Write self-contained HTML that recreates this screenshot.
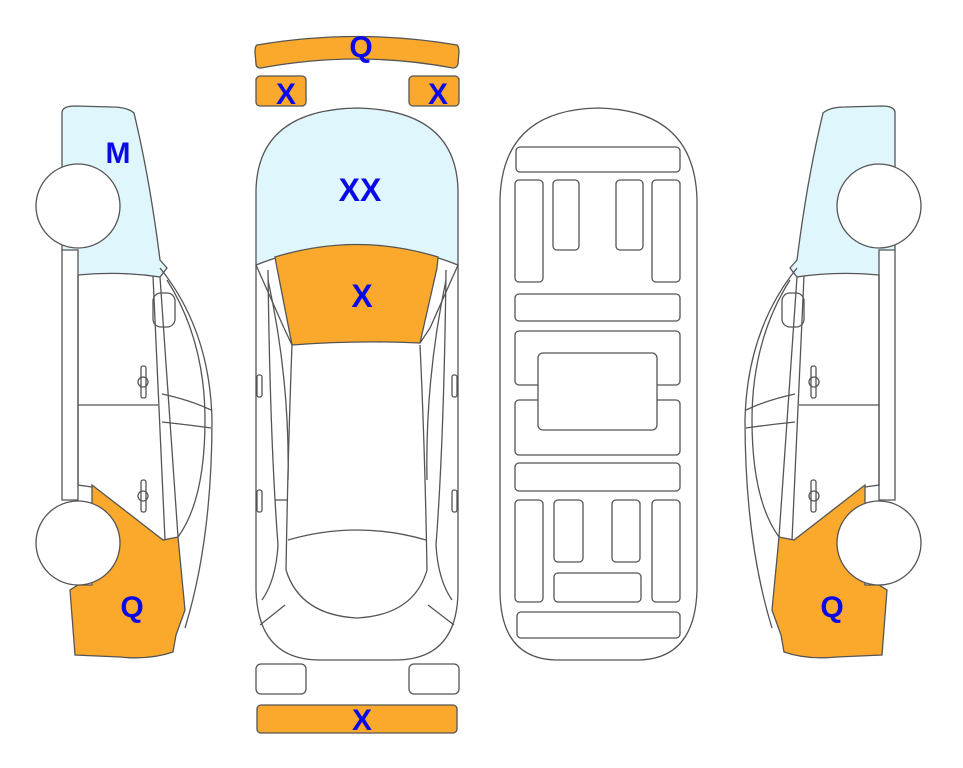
<!DOCTYPE html>
<html><head><meta charset="utf-8"><style>
html,body{margin:0;padding:0;background:#fff;}
svg{display:block}
text{font-family:"Liberation Sans",Arial,sans-serif;font-weight:bold;fill:#0a0ae6;text-anchor:middle}
</style></head><body>
<svg width="963" height="768" viewBox="0 0 963 768" xmlns="http://www.w3.org/2000/svg">
<defs>
<g id="side" fill="none" stroke="#555" stroke-width="1.3">
  <path d="M62,112 Q63,106 75,106 L112,107 Q127,107 134,113 Q150,180 160,260 L167,268 L160,277 Q120,271 78,275 L78,250 L62,250 Z" fill="#dff6fd"/>
  <path d="M92,485 L163,540 L178,537 L185,610 L176,635 L173,652 Q150,660 120,657 L75,655 L70,590 L78,585 L92,585 Z" fill="#fba92d"/>
  <path d="M160,268 Q210,330 212,420 Q212,540 185,628"/>
  <path d="M167,280 Q205,340 205,420 Q205,500 178,537"/>
  <path d="M62,250 L62,500 L78,500 L78,275"/>
  <path d="M78,275 L78,485 L92,487"/>
  <path d="M153,276 L165,540"/>
  <path d="M160,277 L178,537"/>
  <path d="M78,405 L158,405"/>
  <path d="M162,394 Q190,400 211,410"/>
  <path d="M162,422 Q190,425 211,428"/>
  <rect x="153" y="293" width="22" height="34" rx="8"/>
  <rect x="141" y="366" width="5" height="32" rx="2"/>
  <circle cx="143" cy="382" r="5"/>
  <rect x="141" y="480" width="5" height="32" rx="2"/>
  <circle cx="143" cy="496" r="5"/>
  <circle cx="78" cy="206" r="42" fill="#fff"/>
  <circle cx="78" cy="543" r="42" fill="#fff"/>
</g>
</defs>
<use href="#side"/>
<use href="#side" transform="translate(957,0) scale(-1,1)"/>
<text x="118" y="163" font-size="30">M</text>
<text x="132" y="617" font-size="30">Q</text>
<text x="832" y="617" font-size="30">Q</text>

<g fill="none" stroke="#555" stroke-width="1.3">
  <path d="M257,45 Q357,28 457,45 Q459,47 459,52 L458,64 Q457,68 453,68 Q357,50 261,68 Q256,68 256,64 L255,52 Q255,46 257,45 Z" fill="#fba92d"/>
  <rect x="256" y="76" width="50" height="30" rx="4" fill="#fba92d"/>
  <rect x="409" y="76" width="50" height="30" rx="4" fill="#fba92d"/>
  <path d="M256,265 L256,190 Q258,110 357,108 Q456,110 458,190 L458,265 Q357,225 256,265 Z" fill="#dff6fd"/>
  <path d="M256,265 L256,590 Q258,660 320,660 L395,660 Q458,660 458,590 L458,265"/>
  <path d="M275,257 Q357,232 438,257 L437,268 L420,343 Q357,340 292,345 L277,268 Z" fill="#fba92d"/>
  <path d="M256,265 L284,328 L292,345"/>
  <path d="M458,265 L430,328 L420,343"/>
  <path d="M268,270 Q270,440 278,545 Q276,580 262,600"/>
  <path d="M446,270 Q444,440 436,545 Q438,580 452,600"/>
  <path d="M292,345 Q288,450 286,570"/>
  <path d="M420,345 Q425,450 427,570"/>
  <path d="M268,280 Q290,380 288,480"/>
  <path d="M446,280 Q425,380 427,480"/>
  <path d="M288,500 Q282,500 275,500" />
  <path d="M288,540 Q357,520 426,540"/>
  <path d="M286,570 Q300,615 357,618 Q414,615 427,570"/>
  <path d="M260,625 L285,605"/><path d="M454,625 L428,605"/>
  <rect x="257" y="375" width="5" height="22" rx="2"/>
  <rect x="452" y="375" width="5" height="22" rx="2"/>
  <rect x="257" y="490" width="5" height="22" rx="2"/>
  <rect x="452" y="490" width="5" height="22" rx="2"/>
  <rect x="256" y="664" width="50" height="30" rx="5" fill="#fff"/>
  <rect x="409" y="664" width="50" height="30" rx="5" fill="#fff"/>
  <rect x="257" y="705" width="200" height="28" rx="4" fill="#fba92d"/>
</g>
<text x="361" y="57" font-size="30">Q</text>
<text x="286" y="104" font-size="30">X</text>
<text x="438" y="104" font-size="30">X</text>
<text x="360" y="201" font-size="32">XX</text>
<text x="362" y="307" font-size="32">X</text>
<text x="362" y="730" font-size="30">X</text>

<g fill="#fff" stroke="#555" stroke-width="1.3">
  <path d="M500,200 Q502,110 598,108 Q695,110 697,200 L697,590 Q695,658 640,660 L555,660 Q500,658 500,590 Z"/>
  <rect x="516" y="147" width="164" height="25" rx="4"/>
  <rect x="515" y="180" width="28" height="102" rx="4"/>
  <rect x="553" y="180" width="26" height="70" rx="4"/>
  <rect x="616" y="180" width="27" height="70" rx="4"/>
  <rect x="652" y="180" width="28" height="102" rx="4"/>
  <rect x="515" y="294" width="165" height="27" rx="4"/>
  <rect x="515" y="331" width="165" height="54" rx="4"/>
  <rect x="515" y="400" width="165" height="55" rx="4"/>
  <rect x="538" y="353" width="119" height="77" rx="5"/>
  <rect x="515" y="463" width="165" height="28" rx="4"/>
  <rect x="515" y="500" width="28" height="102" rx="4"/>
  <rect x="554" y="500" width="29" height="62" rx="4"/>
  <rect x="612" y="500" width="28" height="62" rx="4"/>
  <rect x="652" y="500" width="28" height="102" rx="4"/>
  <rect x="554" y="573" width="87" height="29" rx="4"/>
  <rect x="517" y="612" width="163" height="26" rx="4"/>
</g>
</svg>
</body></html>
